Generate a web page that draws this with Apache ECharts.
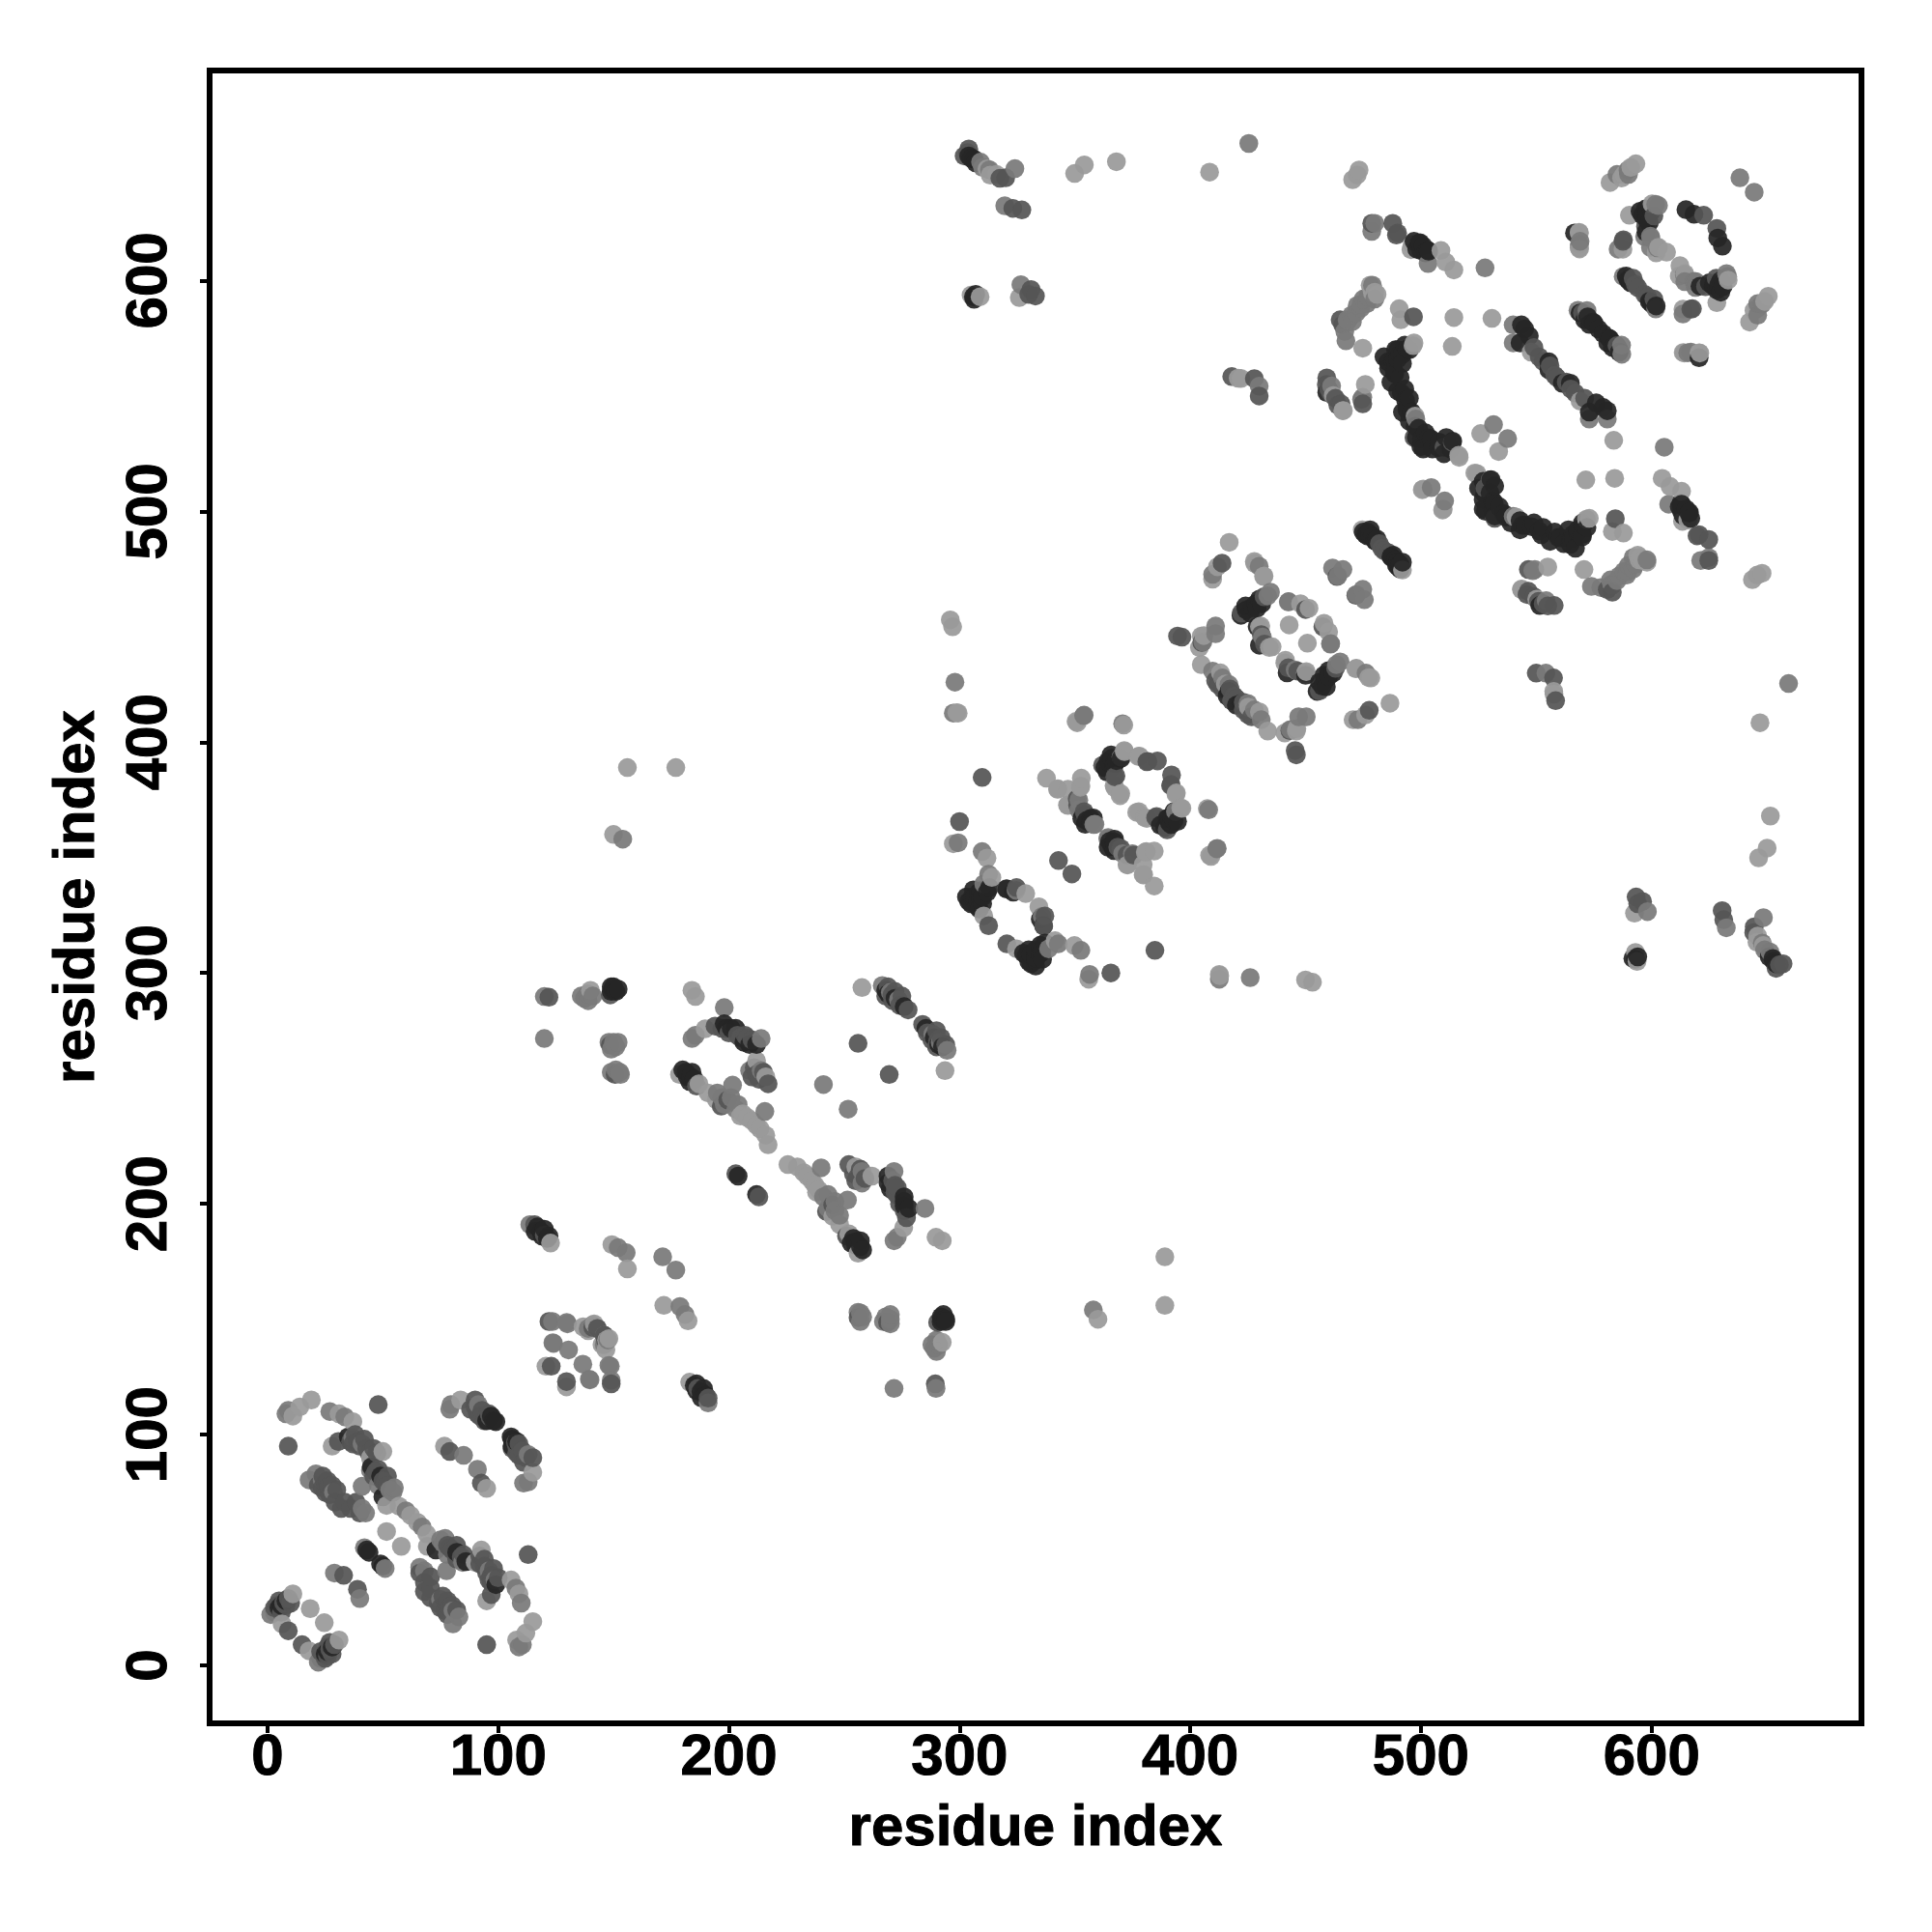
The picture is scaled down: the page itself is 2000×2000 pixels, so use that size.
<!DOCTYPE html>
<html><head><meta charset="utf-8">
<script src="https://cdn.jsdelivr.net/npm/echarts@6/dist/echarts.min.js"></script>
<style>html,body{margin:0;padding:0;background:#fff}#c{width:2000px;height:2000px}</style>
</head><body><div id="c"></div>
<script>
var axisTitle = "residue index";
var tickValues = [0,100,200,300,400,500,600];
var lightContacts = [[11,108],[14,112],[19,115],[31,109],[37,105.6],[28,95],[50,92.7],[44.6,90],[51.6,69.3],[57,69],[62,65],[51.6,58],[83.7,115],[76.7,95],[11,31],[18.5,24.6],[6.3,18],[120.7,129.6],[136.8,146.7],[141.6,148],[147,141],[145,139],
[140,292.5],[184,292.5],[185.5,289.8],[189.7,275.8],[212,262],[216,255],[178.6,256],[187,252],[191,248],[194.6,245],[208,237.4],[213.5,232.5],[216,229.7],[217,225.6],[206,239],[210,236],[212,234],[205,238],[122.7,183],[149.3,182.3],[156,171.8],[257.7,293.7],[150,360],[156,389],[177,389],
[299.4,412.6],[351,408.4],[371.2,407.4],[371.5,395.9],[377.5,393.8],[369.9,377.7],[367,381.2],[369.6,376.8],[367.3,380.3],[371.4,396.4],[378,394],[337.7,384.4],[342.6,379.8],[352.8,384.4],[352.4,380.5],[346.8,372.8],[352.6,381],[347,372.6],[347,379.6],[342.5,379.6],[297.3,356],[311.9,349.8],[314,341.4],[310.5,324.7],[328.7,334.4],[409,350.5],[296,453],[297,450],[298.8,412.8],
[416.9,486.6],[411.8,476],[409.7,470.6],[427.8,478.3],[432,472],[447.8,460],[451.5,458],[430.6,450.3],[435.5,441.3],[442.9,450.8],[434.3,441],[430,450],[404.8,446],[405.9,446.2],[404,441],[404.8,433.6],[413.1,430],[415.2,425.2],[431.8,471.8],[428,477.4],[474.6,492],[466.4,543.7],[462,550.2],[475.9,555],[420.8,557.7],[422,557.6],
[496.2,615.7],[495.7,613.4],[508.7,613],[510.8,608],[514.3,604.6],[568.7,620.6],[587.6,613.6],[478.7,596.2],[480,595],[478,598],[481,594],[474.8,570.7],[490.6,587.8],[491.3,583],[514.3,584],[530.8,583.6],[547.8,569],[513.6,571.5],[496.6,571.8],[497,573],[497.5,541.3],[516.4,524.3],[516.6,523.4],[466.1,543.6],[525.9,533.7],[501,509.7],[500.6,509.4],[479,594.6],
[311.9,648.4],[313.3,645.7],[316,646],[349.9,646.4],[354.1,650.1],[368,651.5],[408.4,647],[305,593.7],[308.9,593],[325.9,592.6],
[473.2,647.9],[472.4,645.8],[470.4,643.7],[582,642.5],[587,644.4],[588,646],[591,649],[593.2,650.6],[590.4,628.3],[600.2,633.2],[603,614.4],[602,612],[606.5,612.3],[568.8,613.7],[568.6,614.2],[568.6,620.9]];
var midContacts = [[9,110.5],[8,109],[27,110],[33.5,107.7],[37,98.6],[41,96],[44.6,84.6],[48,78],[55,77],[53,76],[54.4,75],[60,67],[41,77.6],[18,80.4],[21,83],[23.7,80.4],[28.6,75],[41,68],[42.5,66],[42,51],[29,40],[79,111],[79.5,113],[91.4,113],[85,91],[3,23],[1.4,22],
[123.5,149],[130,148],[141,147.5],[139,146],[143,146],[124,139.5],[130.5,136.7],[129.7,148.6],[123.7,139.8],
[120,289.8],[120,271.6],[136,290],[137.4,289],[139,288],[138.8,291],[141,290],[150,270],[148,270],[151,268],[149,267],[152,270],[152.7,257],[151,258],[153,256],[149,257],[198,285],[184,271.6],[185.5,273],[214,271.6],[209,257.7],[214,257.7],[201.6,251.4],[195,248],[198,243],[201,246],[204,243],[197,246],[203,241],[215.6,240],[113.7,191],[152,181],[155.5,178.8],[171.3,177],[266.5,294.6],[273.5,288.4],[272,289],[270,291.6],[241,251.7],[154,358],
[297.3,412.6],[353.8,411.5],[351.7,374.9],[351.7,370.7],[358.7,364.4],[358.2,364.3],[370,393.6],[299.4,356.4],[309.8,352.6],[312.6,342.8],[310.5,338.6],[324.5,335.8],[408,370.7],[411.7,354],[298,426],
[409.7,472.7],[429.9,476.2],[434.8,465],[442.5,460.8],[431.3,445.5],[442.7,460.9],[433.6,463.4],[405.5,443.4],[411,450.3],[411,447],[409.7,430.8],[416.8,425],[414,427.8],[461.7,475.5],[466.2,474.8],[464,472],[461.3,554.3],[429.9,554.2],
[480,624.8],[478.7,621.3],[503.1,607.4],[527.8,605.5],[568.7,615.7],[585.5,613.6],[599.5,619.2],[597,619],[599.5,614.4],[601.8,633],[602.5,614.2],[599.7,618.4],[476.6,590],[477,593],[480,592],[475,592],[472.4,589.2],[474,588],[470.3,582.2],[468,583],[470,585],[472,586],[467,578],[467.5,573.9],[540,580.8],[540,573],[474.8,549.4],[474.3,548.5],[531.5,537.6],[504.5,510.3],[468.5,582.7],[474,589.7],[479,598],[497.8,540],
[603,632.5],[585,646],[590,646],[589.8,647.9],[638.3,644.5],[587.7,601.8],[568.1,587.1],[572,587],[569,617],[319.6,632.4],[324,648.5],[309.1,651.3],[310,649],[313,648],[326.6,598.2],[425.4,659.4]];
var darkContacts = [[9,95],[48,113],[39,97],[43,94],[47.4,92],[36,97],[38,100],[40,95],[42,98],[44,92],[46,94],[37,96],[51,79],[47,84],[46,82],[48,85],[50,80],[52,82],[52,78],[30.7,97],[26.5,77.6],[23.7,77],[22,78],[24,82],[26,80],[28,78],[30,76],[25,75],[32,68],[36,68],[40,66],[29.3,70.7],[33.5,70.7],[38.4,70.7],[25,79],[27,74],[33,39],[79,92.7],[88,111],[90,115],[92,108],[94,106],[96,109],[91,109],[90,112],[93,110.5],[95,108],[96.5,107.5],[7,27],[9,29],[9,15],[4,26],[6,23],[8,26],[10,27],[3,25],[5,28],
[122,149],[123,129.6],[141,146.5],[146,143],
[122,289.5],[148.6,290.5],[148.6,268.8],[150.7,256],[194,277],[197,276],[200,274],[203.7,273],[205,272],[208,272],[210,271],[207,273],[212,256],[213,254],[215,257],[217,252],[210,255],[211,259],[196.7,242.3],[199.5,245],[186,251],[203,213],[115.8,191],[120,186.5],[268,290],[271,288],[274,286],[269,294],[272,292],[275,290],[270.7,290.5],[277.7,284],[256,269.5],
[362,390],[367.8,385.4],[381.7,391.7],[385.8,391.9],[381.2,391.5],[367.3,385],[354.5,368.6],[354,369.9],[351.2,372.6],[351,375.5],[309.8,384.7],[300,365.6],[342.9,348.7],[320.3,336.5],[312.6,320.5],[324.7,337],
[413.8,477.6],[432,463],[422.2,456],[450,457.5],[432.2,442.5],[430.8,446.6],[396.4,445.5],[411,426.6],[412,425],[414,423],[419,420],[418,418],[417.3,423],[405,443.2],[394.5,446],[471.8,463.6],
[478.7,624.8],[487.8,624.8],[489.9,620.6],[587.6,617],[597.4,623.4],[601,628],[622.6,628.3],[466.1,580.8],[465,583],[496.8,584.3],[549,571],[551.3,566.9],[553,565],[556,563],[558,559],[459.2,557.8],[459,555],[461,551],[463,549],[464,546],[460,553],[465.4,546.6],[474.8,546.6],[510,527.8],[513.6,529.9],[497,532],[482,486],[483,484],[489.4,619.7],[592,601],[594,597],[593,598.3],[617.7,587.8],[570,586],[571.8,585],
[303.5,655.4],[302,654],[304,657],[317.5,644.3],[320,644.5],[323.1,631.3],[327,630.6],[331,596.1],[332.9,593.3],[330,594],[418,558.4],[427.8,557.5],[429.9,550]];
var blackContacts = [[35,99],[49,82],[45,86],[50,73],[43,50],[44,49],[97,108],[95,106],[98,106],[99,105.6],[5,25],[6,26],[8,28],
[150,292.5],[150,294],[149,294],[151,292],[149,292],[152,293],[198,278],[199,276],[201,276],[203,276],[206.5,270],[209,269],[212,269],[180,258],[181.4,257],[182,255],[184,257],[185,254],[183,253],[183.5,255],[204,212],[117,190],[116,188],[119,186],[120,189],[122,186],[118.6,187.9],[121.3,185],[268,292.6],[269,291],[272,289],[276,285.4],
[363,389],[364,387],[365,391],[366,393],[368,392],[370,393],[364.3,391.7],[367,390],[365.7,394.5],[367.3,390.8],[358,367.2],[353,367],[355,366],[357,365],[354.5,364.4],[356.8,367],[303,333],[304,331],[305,330],[306,336],[309,333],[310,330],[305.6,333],[308.4,335],[307.7,328.9],[320.5,336.4],[323.3,335],[308.6,327.7],[306.5,333],[309.3,335.7],[308,331],[310,333],[312,335],[313,337],
[422,455],[424,459],[426,456],[429,458],[430,462],[431,460],[424.3,457.3],[427,458.7],[428.5,460],[429,450],[430,442],[416,420],[416.8,422],[475,491],[477,491],[478,490],[479,489],[481,488],[476,490],[476.7,489.4],[478,492],[480,487.3],[480.4,487],
[497,617],[501,615],[500,613],[502,612],[499.6,616.4],[498.2,613.6],[503.1,613],[595,630],[598,629],[600,630],[598,627],[599,625],[596,628.3],[597.4,631],[614.9,630.7],[618.4,628.7],[566.6,620.6],[589,602],[591,599],[590.4,599.7],[589.7,600.4],[569,586],[571,583],[573,581],[577,579],[545,579],[547,576],[543.6,580.8],[543,573],[555.5,564.8],[555.5,561.3],[490,570],[493,572],[491,568],[495,570],[489,570],[494,570.4],[492,568],[484,567],[490,566],[492,564],[486,562],[487,556],[491,558],[493,553],[495,549],[496,543],[492,543],[495,539],[498,532],[499,536],[502,534],[500,528],[505,527],[508,530],[511,532],[510,525],[513,527],[488.5,566.2],[488,565.2],[485.7,564.8],[488.5,560.6],[488.7,559.6],[489.9,552.2],[491.5,551.3],[493.4,548],[494,545.2],[494,544],[497.5,536.9],[500.3,531.3],[503.4,531.8],[504.5,531.3],[501,527],[507.6,527.6],[513.8,530.4],[459.2,551.5],[572.3,584.3],[574.6,582],[575.1,581.5],[304,654],[307,651],[305,653],[306.3,652.6],[306.3,591.9],[307,594],[306,593],[597.6,621],[597.6,626.7],[503.4,612.7],[499.2,616.2]];

var shades = [
  {list: lightContacts, color: "#9a9a9a"},
  {list: midContacts, color: "#7a7a7a"},
  {list: darkContacts, color: "#555555"},
  {list: blackContacts, color: "#262626"}
];
var points = [];
shades.forEach(function (s) {
  s.list.forEach(function (p) {
    points.push({value: [p[0], p[1]], itemStyle: {color: s.color}});
    points.push({value: [p[1], p[0]], itemStyle: {color: s.color}});
  });
});
// Later residues are painted over earlier ones, as in the reference.
points.sort(function (a, b) { return a.value[0] - b.value[0]; });

var font = "'Liberation Sans', Arial, sans-serif";
var chart = echarts.init(document.getElementById("c"), null, {renderer: "canvas"});
function axis(rotate, margin, gap) {
  return {
    type: "value", min: -25.1, max: 691,
    name: axisTitle, nameLocation: "middle", nameGap: gap,
    nameTextStyle: {fontFamily: font, fontWeight: "bold", fontSize: 60, color: "#000", textBorderColor: "#000", textBorderWidth: 1},
    splitLine: {show: false},
    axisLine: {show: true, onZero: false, lineStyle: {color: "#000", width: 6}},
    axisTick: {show: true, length: 10, inside: false, lineStyle: {color: "#000", width: 4}, customValues: tickValues},
    axisLabel: {show: true, rotate: rotate, margin: margin, fontFamily: font, fontWeight: "bold", fontSize: 60, color: "#000", textBorderColor: "#000", textBorderWidth: 1, customValues: tickValues, showMinLabel: true, showMaxLabel: true}
  };
}
chart.setOption({
  animation: false,
  backgroundColor: "#fff",
  grid: {show: true, left: 217, top: 73, width: 1710, height: 1711, borderColor: "#000", borderWidth: 6, backgroundColor: "transparent"},
  xAxis: axis(0, 6, 79),
  yAxis: axis(90, 32, 107),
  series: [{
    type: "scatter", symbol: "circle", symbolSize: 19.5, data: points,
    clip: false, large: false, progressive: 0, itemStyle: {opacity: 0.93}
  }]
});
</script></body></html>
